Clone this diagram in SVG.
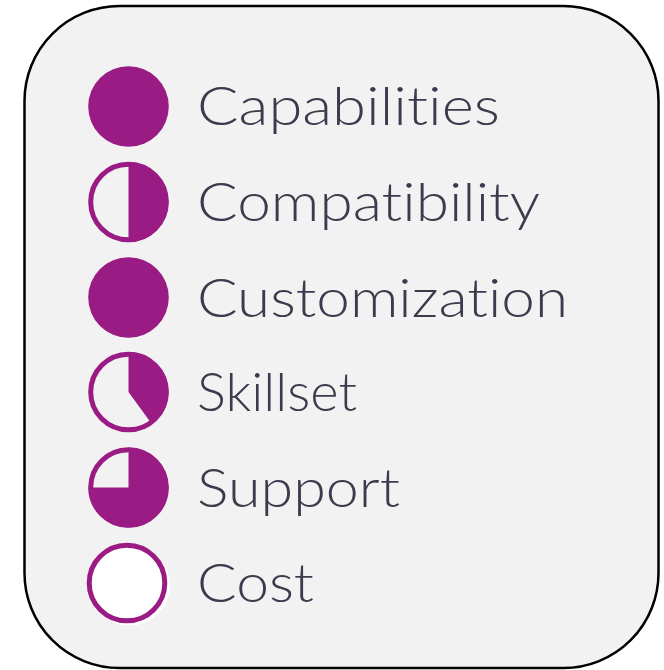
<svg xmlns="http://www.w3.org/2000/svg" width="664" height="670" viewBox="0 0 664 670">
<style>
.t{font-family:Lato,"Open Sans","Liberation Sans",sans-serif;font-weight:300;font-size:54px;fill:#3a3b4d;font-variant-ligatures:none;font-feature-settings:"liga" 0}
.f{fill:#9b1b84}
.r{fill:none;stroke:#9b1b84;stroke-width:5}
</style>
<rect x="24.5" y="6" width="634" height="662" rx="95" ry="95" fill="#f2f2f2" stroke="#000" stroke-width="2.5"/>
<g id="capabilities">
<circle class="f" cx="128.5" cy="106.5" r="40.3"/>
<text class="t" x="197" y="125" textLength="303" lengthAdjust="spacingAndGlyphs">Capabilities</text>
</g>
<g id="compatibility">
<path class="f" d="M128.5,162 A40 40 0 0 1 128.5,242 Z"/>
<circle class="r" cx="128.5" cy="202" r="37.8"/>
<text class="t" x="197" y="221" textLength="343" lengthAdjust="spacingAndGlyphs">Compatibility</text>
</g>
<g id="customization">
<circle class="f" cx="128.5" cy="297.5" r="40.3"/>
<text class="t" x="197" y="316.5" textLength="371" lengthAdjust="spacingAndGlyphs">Customization</text>
</g>
<g id="skillset">
<path class="f" d="M128.5,392 L128.5,352 A40 40 0 0 1 152.01,424.36 Z"/>
<circle class="r" cx="128.5" cy="392" r="37.8"/>
<text class="t" x="197" y="411" textLength="160" lengthAdjust="spacingAndGlyphs">Skillset</text>
</g>
<g id="support">
<path class="f" d="M128.5,487.5 L128.5,447.5 A40 40 0 1 1 88.5,487.5 Z"/>
<circle class="r" cx="128.5" cy="487.5" r="37.8"/>
<text class="t" x="197" y="506.5" textLength="203" lengthAdjust="spacingAndGlyphs">Support</text>
</g>
<g id="cost">
<circle cx="130" cy="585.5" r="40" fill="#fff"/>
<circle class="r" cx="127" cy="583" r="37.8"/>
<text class="t" x="197" y="602" textLength="117" lengthAdjust="spacingAndGlyphs">Cost</text>
</g>
</svg>
